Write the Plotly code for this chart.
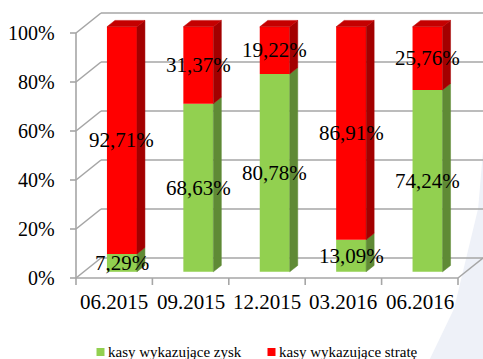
import plotly.graph_objects as go

# --- data ---------------------------------------------------------------
categories = ["06.2015", "09.2015", "12.2015", "03.2016", "06.2016"]
profit_pct = [7.29, 68.63, 80.78, 13.09, 74.24]     # kasy wykazujące zysk
loss_pct = [92.71, 31.37, 19.22, 86.91, 25.76]      # kasy wykazujące stratę
series_names = ["kasy wykazujące zysk", "kasy wykazujące stratę"]
y_ticks = [0, 20, 40, 60, 80, 100]
y_tick_labels = ["0%", "20%", "40%", "60%", "80%", "100%"]

# --- styling / pseudo-3D geometry ----------------------------------------
FONT = "Times New Roman, Liberation Serif, Times, serif"
GREEN, GREEN_SIDE, GREEN_TOP = "#92D050", "#5F8A35", "#78AE42"
RED, RED_SIDE, RED_TOP = "#FF0000", "#A30000", "#C40000"
GRID = "#A6A6A6"

PX_X = 76.4          # pixels per category
PX_Y = 2.45          # pixels per percent
DX = 25 / PX_X       # full depth offset, category units
DY = 20 / PX_Y       # full depth offset, percent units
D_FRONT = 0.31       # depth of bar front face
D_SPAN = 0.32        # bar thickness in depth
BAR_W = 30 / PX_X

X0 = -0.5 - 76 / PX_X
X1 = X0 + 483 / PX_X
Y0 = (278 - 359) / PX_Y
Y1 = 278 / PX_Y

n = len(categories)
xs = list(range(n))

fig = go.Figure()
shapes = []

def line(x0, y0, x1, y1, w=1.6):
    shapes.append(dict(type="line", xref="x", yref="y", x0=x0, y0=y0, x1=x1, y1=y1,
                       line=dict(color=GRID, width=w), layer="below"))

# soft background panel on the right
shapes.append(dict(type="path", xref="paper", yref="paper",
                   path="M 1,0.58 L 0.99,0.42 L 0.94,0.14 L 0.89,0 L 1,0 Z",
                   fillcolor="#EEF1F8", line=dict(width=0), layer="below"))

x_left, x_right = -0.5, n - 0.5
# walls: gridlines on the back wall, joined to the front axis by diagonals
for t in y_ticks:
    line(x_left, t, x_left + DX, t + DY)
    line(x_left + DX, t + DY, x_right + DX, t + DY)
    line(x_left - 6 / PX_X, t, x_left, t)
line(x_left, 0, x_left, 100)
# floor
line(x_left, 0, x_right, 0)
line(x_right, 0, x_right + DX, DY)
for k in range(n + 1):
    line(x_left + k, 0, x_left + k, -7 / PX_Y)

# --- bars -----------------------------------------------------------------
xc = [x + D_FRONT * DX for x in xs]
base0 = D_FRONT * DY
loss_base = [base0 + p for p in profit_pct]

fig.add_trace(go.Bar(x=xc, y=profit_pct, base=base0, width=BAR_W,
                     marker=dict(color=GREEN, line=dict(width=0)), name=series_names[0],
                     showlegend=False))
fig.add_trace(go.Bar(x=xc, y=loss_pct, base=loss_base, width=BAR_W,
                     marker=dict(color=RED, line=dict(width=0)), name=series_names[1],
                     showlegend=False))

sx, sy = D_SPAN * DX, D_SPAN * DY

def poly(px, py, color):
    fig.add_trace(go.Scatter(x=px + [px[0]], y=py + [py[0]], mode="lines", fill="toself",
                             fillcolor=color, line=dict(width=0.5, color=color),
                             hoverinfo="skip", showlegend=False))

for i in range(n):
    xr = xc[i] + BAR_W / 2
    xl = xc[i] - BAR_W / 2
    g0, g1 = base0, base0 + profit_pct[i]
    r1 = g1 + loss_pct[i]
    # side faces
    poly([xr, xr + sx, xr + sx, xr], [g0, g0 + sy, g1 + sy, g1], GREEN_SIDE)
    poly([xr, xr + sx, xr + sx, xr], [g1, g1 + sy, r1 + sy, r1], RED_SIDE)
    # top face
    poly([xl, xl + sx, xr + sx, xr], [r1, r1 + sy, r1 + sy, r1], RED_TOP)

annotations = []

def label(x, y, text, size=20, xanchor="center"):
    annotations.append(dict(x=x, y=y, xref="x", yref="y", text=text, showarrow=False,
                            xanchor=xanchor, yanchor="middle",
                            font=dict(family=FONT, size=size, color="#000000")))

def fmt(v):
    return f"{v:.2f}".replace(".", ",") + "%"

for i in range(n):
    label(xc[i], base0 + profit_pct[i] / 2, fmt(profit_pct[i]), size=21)
    label(xc[i], loss_base[i] + loss_pct[i] / 2, fmt(loss_pct[i]), size=21)
    label(xs[i], -24 / PX_Y, categories[i], size=21)

for t, s in zip(y_ticks, y_tick_labels):
    label(x_left - 19 / PX_X, t, s, size=20, xanchor="right")

# legend
leg_y = (278 - 352) / PX_Y
leg_x = [X0 + 100.5 / PX_X, X0 + 271.5 / PX_X]
for lx, col, nm in zip(leg_x, [GREEN, RED], series_names):
    fig.add_trace(go.Scatter(x=[lx], y=[leg_y], mode="markers",
                             marker=dict(symbol="square", size=8, color=col),
                             hoverinfo="skip", showlegend=False))
    label(lx + 5 / PX_X, leg_y, nm, size=15, xanchor="left")

fig.update_layout(
    width=483, height=359,
    margin=dict(l=0, r=0, t=0, b=0),
    font=dict(family=FONT),
    paper_bgcolor="white", plot_bgcolor="rgba(0,0,0,0)",
    xaxis=dict(visible=False, range=[X0, X1], fixedrange=True),
    yaxis=dict(visible=False, range=[Y0, Y1], fixedrange=True),
    barmode="overlay",
    shapes=shapes, annotations=annotations,
    showlegend=False,
)

fig.write_html("out.html")
